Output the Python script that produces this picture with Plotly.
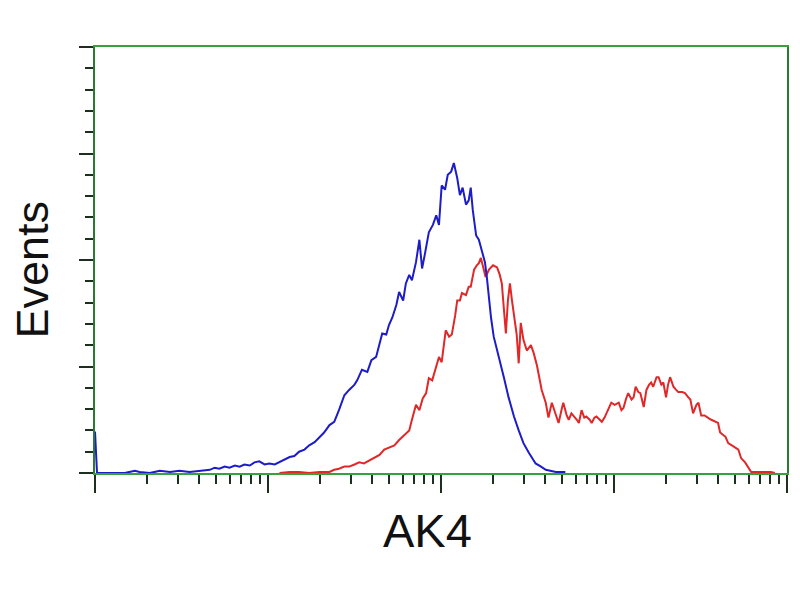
import plotly.graph_objects as go

# Flow cytometry histogram: 1024 log channels spanning 4 decades (256 channels / decade)
CH_PER_DECADE = 256

blue_channel = [0, 3, 22, 44, 59, 66, 81, 96, 111, 125, 140, 155, 170, 177, 184, 192, 199, 207, 214, 221,
                229, 236, 243, 251, 258, 266, 273, 280, 288, 295, 302, 310, 317, 325, 332, 339, 347, 354, 361, 369,
                376, 384, 388, 395, 403, 409, 416, 421, 425, 431, 435, 440, 446, 450, 456, 460, 465, 469, 475, 480,
                484, 488, 494, 500, 505, 509, 513, 518, 522, 527, 531, 536, 540, 544, 549, 553, 556, 559, 564, 568,
                572, 577, 580, 583, 586, 590, 598, 605, 612, 620, 627, 634, 642, 652, 660, 667, 682, 696]
blue_events = [39, 0, 0, 0, 2, 1, 0, 2, 1, 2, 1, 2, 3, 5, 4, 6, 5, 7, 6, 8,
               7, 10, 11, 8, 9, 8, 10, 12, 15, 16, 20, 22, 26, 29, 34, 38, 45, 48, 59, 73,
               78, 83, 87, 97, 95, 106, 109, 120, 131, 130, 139, 146, 158, 170, 162, 178, 186, 181, 198, 219,
               192, 205, 226, 233, 242, 233, 270, 266, 280, 283, 291, 277, 261, 268, 252, 256, 268, 247, 223, 219,
               209, 198, 183, 162, 146, 128, 109, 90, 71, 53, 40, 28, 19, 9, 6, 3, 1, 1]

red_channel = [273, 288, 302, 317, 332, 347, 354, 361, 369, 376, 384, 391, 398, 406, 413, 421, 428, 435, 443, 450,
               457, 465, 469, 475, 480, 485, 490, 494, 499, 505, 509, 513, 519, 524, 528, 533, 536, 540, 543, 549,
               553, 556, 561, 565, 568, 571, 575, 578, 583, 589, 595, 599, 602, 605, 608, 611, 614, 617, 620, 624,
               627, 630, 634, 639, 645, 649, 654, 657, 661, 667, 671, 676, 680, 686, 691, 693, 698, 701, 705, 708,
               713, 716, 720, 724, 727, 732, 735, 739, 742, 747, 750, 754, 757, 761, 764, 769, 775, 779, 782, 786,
               789, 794, 797, 800, 804, 807, 812, 816, 820, 823, 826, 831, 834, 838, 841, 845, 848, 851, 856, 860,
               863, 869, 873, 878, 881, 885, 890, 893, 897, 902, 904, 909, 912, 918, 922, 925, 930, 933, 937, 943,
               947, 952, 956, 962, 966, 971, 981, 992, 1000, 1006]
red_events = [0, 1, 1, 0, 1, 1, 3, 4, 6, 6, 8, 10, 9, 12, 14, 17, 22, 24, 26, 31,
              35, 40, 50, 64, 59, 70, 75, 89, 87, 101, 109, 104, 134, 128, 130, 148, 162, 162, 169, 167,
              175, 175, 191, 195, 197, 202, 192, 184, 191, 195, 193, 186, 178, 153, 131, 162, 178, 162, 150, 130,
              103, 141, 125, 115, 120, 113, 101, 90, 78, 66, 52, 66, 59, 47, 61, 66, 54, 50, 56, 54,
              50, 47, 59, 52, 53, 50, 47, 52, 53, 50, 48, 52, 56, 61, 66, 64, 66, 59, 61, 70,
              75, 69, 71, 81, 76, 75, 62, 78, 83, 85, 81, 90, 90, 83, 85, 71, 83, 90, 81, 78,
              76, 76, 75, 71, 69, 56, 64, 66, 54, 54, 53, 51, 50, 48, 47, 38, 36, 34, 28, 26,
              24, 22, 14, 10, 6, 1, 1, 1, 1, 0]

x_title = "AK4"
y_title = "Events"

blue_x = [10 ** (c / CH_PER_DECADE) for c in blue_channel]
red_x = [10 ** (c / CH_PER_DECADE) for c in red_channel]

fig = go.Figure()
fig.add_trace(go.Scatter(x=red_x, y=red_events, mode="lines",
                         line=dict(color="#e02828", width=2), showlegend=False))
fig.add_trace(go.Scatter(x=blue_x, y=blue_events, mode="lines",
                         line=dict(color="#1c1cc8", width=2), showlegend=False))

tick_col = "#1f2f1f"
fig.update_xaxes(type="log", range=[0, 4], dtick=1, showticklabels=False,
                 showgrid=False, zeroline=False, automargin=False,
                 showline=True, linecolor="#38a03c", linewidth=2, mirror=True,
                 ticks="outside", ticklen=18, tickwidth=2, tickcolor=tick_col,
                 minor=dict(dtick="D1", ticks="outside", ticklen=9, tickwidth=2,
                            tickcolor=tick_col, showgrid=False))
fig.update_yaxes(range=[0, 400], dtick=100, showticklabels=False,
                 showgrid=False, zeroline=False, automargin=False,
                 showline=True, linecolor="#2a7a32", linewidth=2, mirror=True,
                 ticks="outside", ticklen=14, tickwidth=2, tickcolor=tick_col,
                 minor=dict(dtick=20, ticks="outside", ticklen=8, tickwidth=2,
                            tickcolor=tick_col, showgrid=False))

fig.add_annotation(text=x_title, xref="paper", yref="paper", x=0.48, y=-0.136,
                   showarrow=False, xanchor="center", yanchor="middle",
                   font=dict(family="Liberation Sans, Arial", size=47, color="#111111"))
fig.add_annotation(text=y_title, xref="paper", yref="paper", x=-0.09, y=0.477,
                   showarrow=False, xanchor="center", yanchor="middle", textangle=-90,
                   borderpad=0,
                   font=dict(family="Liberation Sans, Arial", size=45, color="#111111"))

fig.update_layout(width=800, height=600, autosize=False,
                  margin=dict(l=87, r=21, t=39, b=135),
                  paper_bgcolor="white", plot_bgcolor="white")

fig.write_html("out.html")
